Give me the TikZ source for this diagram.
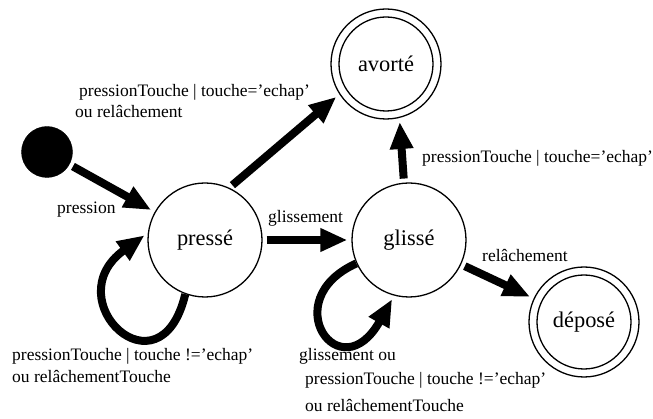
\documentclass[tikz,border=0pt]{standalone}
\usepackage{fontspec}
\setmainfont{Liberation Serif}
\usetikzlibrary{arrows.meta}
\begin{document}
\begin{tikzpicture}[x=1pt,y=-1pt,
        etat/.style={draw,circle,line width=1.3pt,minimum size=114pt,inner sep=0pt,font=\fontsize{22.4}{26}\selectfont},
        fin/.style={etat,minimum size=110pt},
        anneau/.style={line width=1.3pt},
        trans/.style={line width=8pt,-{Triangle[length=27pt,width=22pt]},shorten <=4pt,shorten >=4pt},
        lbl/.style={inner sep=0pt,align=left,anchor=base west,font=\fontsize{17.5}{21}\selectfont}]
        \useasboundingbox (0,0) rectangle (653,419);
        % etats
        \node[draw,circle,fill=black,minimum size=51pt] (init) at (47,152) {};
        \node[etat] (presse) at (205,240) {pressé};
        \node[etat] (glisse) at (409,240) {glissé};
        \node[fin] (avorte) at (386,64) {avorté};
        \node[fin] (depose) at (584,322) {déposé};
        \draw[anneau] (avorte.center) circle (47pt);
        \draw[anneau] (depose.center) circle (47pt);
        % transitions
        \draw[trans] (init) -- (presse);
        \draw[trans] (presse.65) -- (avorte.213);
        \draw[trans] (presse) -- (glisse);
        \draw[trans] (glisse.95) -- (avorte.284);
        \draw[trans] (glisse) -- (depose);
        \draw[trans,shorten <=0pt] (presse.250) .. controls (160,400) and (55,300) .. (presse.173);
        \draw[trans,shorten <=0pt] (glisse.204) .. controls (275,300) and (340,392) .. (glisse.255);
        % etiquettes
        \node[lbl] (lpression) at (57,214) {pression};
        \node[lbl] (lannule) at (75,118) {\hspace*{4pt}pressionTouche | touche='echap'\\ou relâchement};
        \node[lbl] (lglissement) at (268,223) {glissement};
        \node[lbl] (lechap) at (422,163) {pressionTouche | touche='echap'};
        \node[lbl] (lrelache) at (482,262) {relâchement};
        \node[lbl] (lboucle) at (12,382) {pressionTouche | touche !='echap'\\ou relâchementTouche};
        \node[lbl] (lboucleg) at (299,411) {glissement ou\\[3pt]\hspace*{6pt}pressionTouche | touche !='echap'\\[6pt]\hspace*{6pt}ou relâchementTouche};
\end{tikzpicture}
\end{document}
